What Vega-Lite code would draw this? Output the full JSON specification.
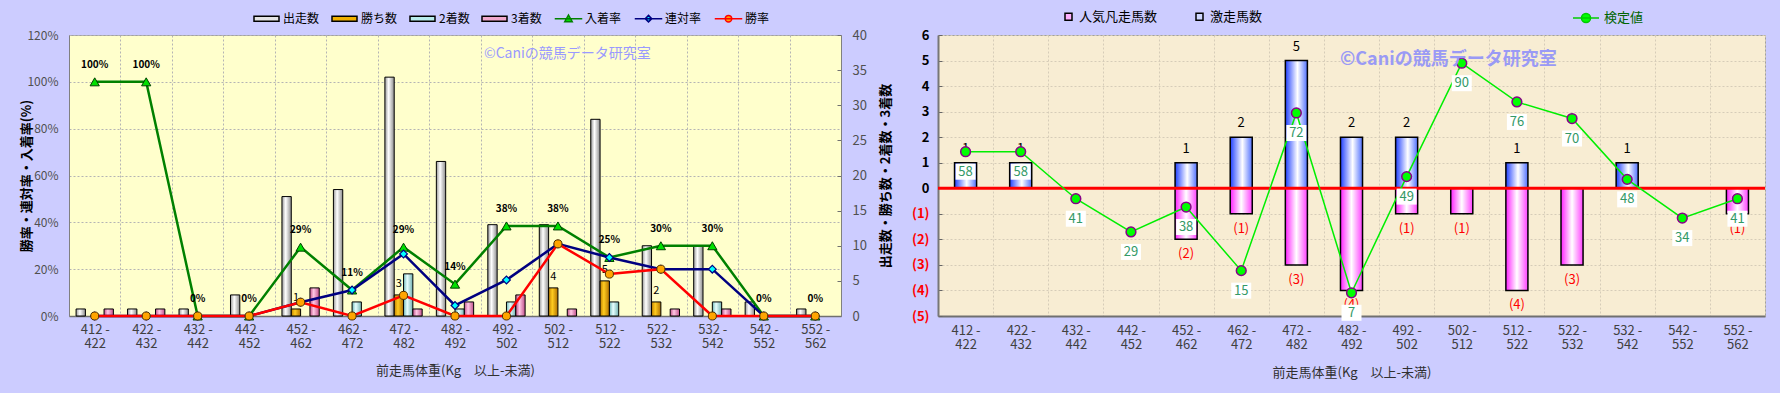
{
 "$schema": "https://vega.github.io/schema/vega-lite/v6.json",
 "background": "#ccccff",
 "padding": {"left": 19, "top": 3, "right": 15, "bottom": 14},
 "spacing": 18,
 "resolve": {"scale": {"fill": "independent", "stroke": "independent", "shape": "independent"}, "legend": {"fill": "independent", "stroke": "independent", "shape": "independent"}},
 "config": {
   "font": "Noto Sans CJK JP",
   "axis": {"labelFont": "Noto Sans CJK JP", "titleFont": "Noto Sans CJK JP"},
   "legend": {"labelFont": "Noto Sans CJK JP"},
   "title": {"font": "Noto Sans CJK JP"},
   "text": {"font": "Noto Sans CJK JP"}
 },
 "datasets": {
  "lbars": [
   {"c":"412 - 422","s":"出走数","v":1},{"c":"412 - 422","s":"勝ち数","v":0},{"c":"412 - 422","s":"2着数","v":0},{"c":"412 - 422","s":"3着数","v":1},
   {"c":"422 - 432","s":"出走数","v":1},{"c":"422 - 432","s":"勝ち数","v":0},{"c":"422 - 432","s":"2着数","v":0},{"c":"422 - 432","s":"3着数","v":1},
   {"c":"432 - 442","s":"出走数","v":1},{"c":"432 - 442","s":"勝ち数","v":0},{"c":"432 - 442","s":"2着数","v":0},{"c":"432 - 442","s":"3着数","v":0},
   {"c":"442 - 452","s":"出走数","v":3},{"c":"442 - 452","s":"勝ち数","v":0},{"c":"442 - 452","s":"2着数","v":0},{"c":"442 - 452","s":"3着数","v":0},
   {"c":"452 - 462","s":"出走数","v":17},{"c":"452 - 462","s":"勝ち数","v":1},{"c":"452 - 462","s":"2着数","v":0},{"c":"452 - 462","s":"3着数","v":4},
   {"c":"462 - 472","s":"出走数","v":18},{"c":"462 - 472","s":"勝ち数","v":0},{"c":"462 - 472","s":"2着数","v":2},{"c":"462 - 472","s":"3着数","v":0},
   {"c":"472 - 482","s":"出走数","v":34},{"c":"472 - 482","s":"勝ち数","v":3},{"c":"472 - 482","s":"2着数","v":6},{"c":"472 - 482","s":"3着数","v":1},
   {"c":"482 - 492","s":"出走数","v":22},{"c":"482 - 492","s":"勝ち数","v":0},{"c":"482 - 492","s":"2着数","v":1},{"c":"482 - 492","s":"3着数","v":2},
   {"c":"492 - 502","s":"出走数","v":13},{"c":"492 - 502","s":"勝ち数","v":0},{"c":"492 - 502","s":"2着数","v":2},{"c":"492 - 502","s":"3着数","v":3},
   {"c":"502 - 512","s":"出走数","v":13},{"c":"502 - 512","s":"勝ち数","v":4},{"c":"502 - 512","s":"2着数","v":0},{"c":"502 - 512","s":"3着数","v":1},
   {"c":"512 - 522","s":"出走数","v":28},{"c":"512 - 522","s":"勝ち数","v":5},{"c":"512 - 522","s":"2着数","v":2},{"c":"512 - 522","s":"3着数","v":0},
   {"c":"522 - 532","s":"出走数","v":10},{"c":"522 - 532","s":"勝ち数","v":2},{"c":"522 - 532","s":"2着数","v":0},{"c":"522 - 532","s":"3着数","v":1},
   {"c":"532 - 542","s":"出走数","v":10},{"c":"532 - 542","s":"勝ち数","v":0},{"c":"532 - 542","s":"2着数","v":2},{"c":"532 - 542","s":"3着数","v":1},
   {"c":"542 - 552","s":"出走数","v":2},{"c":"542 - 552","s":"勝ち数","v":0},{"c":"542 - 552","s":"2着数","v":0},{"c":"542 - 552","s":"3着数","v":0},
   {"c":"552 - 562","s":"出走数","v":1},{"c":"552 - 562","s":"勝ち数","v":0},{"c":"552 - 562","s":"2着数","v":0},{"c":"552 - 562","s":"3着数","v":0}
  ],
  "llines": [
   {"c":"412 - 422","s":"入着率","v":1},{"c":"422 - 432","s":"入着率","v":1},{"c":"432 - 442","s":"入着率","v":0},{"c":"442 - 452","s":"入着率","v":0},
   {"c":"452 - 462","s":"入着率","v":0.294},{"c":"462 - 472","s":"入着率","v":0.111},{"c":"472 - 482","s":"入着率","v":0.294},{"c":"482 - 492","s":"入着率","v":0.136},
   {"c":"492 - 502","s":"入着率","v":0.3846},{"c":"502 - 512","s":"入着率","v":0.3846},{"c":"512 - 522","s":"入着率","v":0.25},{"c":"522 - 532","s":"入着率","v":0.3},
   {"c":"532 - 542","s":"入着率","v":0.3},{"c":"542 - 552","s":"入着率","v":0},{"c":"552 - 562","s":"入着率","v":0},
   {"c":"412 - 422","s":"連対率","v":0},{"c":"422 - 432","s":"連対率","v":0},{"c":"432 - 442","s":"連対率","v":0},{"c":"442 - 452","s":"連対率","v":0},
   {"c":"452 - 462","s":"連対率","v":0.059},{"c":"462 - 472","s":"連対率","v":0.111},{"c":"472 - 482","s":"連対率","v":0.265},{"c":"482 - 492","s":"連対率","v":0.045},
   {"c":"492 - 502","s":"連対率","v":0.154},{"c":"502 - 512","s":"連対率","v":0.308},{"c":"512 - 522","s":"連対率","v":0.25},{"c":"522 - 532","s":"連対率","v":0.2},
   {"c":"532 - 542","s":"連対率","v":0.2},{"c":"542 - 552","s":"連対率","v":0},{"c":"552 - 562","s":"連対率","v":0},
   {"c":"412 - 422","s":"勝率","v":0},{"c":"422 - 432","s":"勝率","v":0},{"c":"432 - 442","s":"勝率","v":0},{"c":"442 - 452","s":"勝率","v":0},
   {"c":"452 - 462","s":"勝率","v":0.059},{"c":"462 - 472","s":"勝率","v":0},{"c":"472 - 482","s":"勝率","v":0.088},{"c":"482 - 492","s":"勝率","v":0},
   {"c":"492 - 502","s":"勝率","v":0},{"c":"502 - 512","s":"勝率","v":0.308},{"c":"512 - 522","s":"勝率","v":0.179},{"c":"522 - 532","s":"勝率","v":0.2},
   {"c":"532 - 542","s":"勝率","v":0},{"c":"542 - 552","s":"勝率","v":0},{"c":"552 - 562","s":"勝率","v":0}
  ],
  "rbars": [
   {"c":"412 - 422","s":"激走馬数","v":1},{"c":"422 - 432","s":"激走馬数","v":1},{"c":"432 - 442","s":"激走馬数","v":0},{"c":"442 - 452","s":"激走馬数","v":0},
   {"c":"452 - 462","s":"激走馬数","v":1},{"c":"462 - 472","s":"激走馬数","v":2},{"c":"472 - 482","s":"激走馬数","v":5},{"c":"482 - 492","s":"激走馬数","v":2},
   {"c":"492 - 502","s":"激走馬数","v":2},{"c":"502 - 512","s":"激走馬数","v":0},{"c":"512 - 522","s":"激走馬数","v":1},{"c":"522 - 532","s":"激走馬数","v":0},
   {"c":"532 - 542","s":"激走馬数","v":1},{"c":"542 - 552","s":"激走馬数","v":0},{"c":"552 - 562","s":"激走馬数","v":0},
   {"c":"412 - 422","s":"人気凡走馬数","v":0},{"c":"422 - 432","s":"人気凡走馬数","v":0},{"c":"432 - 442","s":"人気凡走馬数","v":0},{"c":"442 - 452","s":"人気凡走馬数","v":0},
   {"c":"452 - 462","s":"人気凡走馬数","v":-2},{"c":"462 - 472","s":"人気凡走馬数","v":-1},{"c":"472 - 482","s":"人気凡走馬数","v":-3},{"c":"482 - 492","s":"人気凡走馬数","v":-4},
   {"c":"492 - 502","s":"人気凡走馬数","v":-1},{"c":"502 - 512","s":"人気凡走馬数","v":-1},{"c":"512 - 522","s":"人気凡走馬数","v":-4},{"c":"522 - 532","s":"人気凡走馬数","v":-3},
   {"c":"532 - 542","s":"人気凡走馬数","v":0},{"c":"542 - 552","s":"人気凡走馬数","v":0},{"c":"552 - 562","s":"人気凡走馬数","v":-1}
  ],
  "rline": [
   {"c":"412 - 422","s":"検定値","v":58},{"c":"422 - 432","s":"検定値","v":58},{"c":"432 - 442","s":"検定値","v":41},{"c":"442 - 452","s":"検定値","v":29},
   {"c":"452 - 462","s":"検定値","v":38},{"c":"462 - 472","s":"検定値","v":15},{"c":"472 - 482","s":"検定値","v":72},{"c":"482 - 492","s":"検定値","v":7},
   {"c":"492 - 502","s":"検定値","v":49},{"c":"502 - 512","s":"検定値","v":90},{"c":"512 - 522","s":"検定値","v":76},{"c":"522 - 532","s":"検定値","v":70},
   {"c":"532 - 542","s":"検定値","v":48},{"c":"542 - 552","s":"検定値","v":34},{"c":"552 - 562","s":"検定値","v":41}
  ]
 },
 "hconcat": [
  {
   "width": 772, "height": 281,
   "title": {"text": "©Caniの競馬データ研究室", "orient": "top", "anchor": "start", "frame": "group", "offset": -63, "dx": 415, "baseline": "middle", "fontSize": 14, "fontWeight": "normal", "color": "#9999ff"},
   "view": {"fill": "#ffffcc", "stroke": "#a0a0a0"},
   "layer": [
    {
     "data": {"name": "lbars"},
     "encoding": {
      "x": {"field": "c", "type": "nominal",
        "scale": {"domain": ["412 - 422","422 - 432","432 - 442","442 - 452","452 - 462","462 - 472","472 - 482","482 - 492","492 - 502","502 - 512","512 - 522","522 - 532","532 - 542","542 - 552","552 - 562"], "paddingInner": 0, "paddingOuter": 0},
        "axis": {"title": "前走馬体重(Kg　以上-未満)", "labelExpr": "[slice(datum.label,0,5), slice(datum.label,6)]", "labelAngle": 0, "labelFontSize": 13, "labelColor": "#404040", "labelPadding": 7, "labelLineHeight": 14, "ticks": false, "tickBand": "extent", "grid": true, "gridColor": "#b4b4b4", "gridDash": [2,2], "domainColor": "#707070", "domainWidth": 1.5, "titleFontSize": 13, "titleFontWeight": "normal", "titleColor": "#303030", "titlePadding": 14}},
      "y": {"field": "v", "type": "quantitative", "scale": {"domain": [0, 40], "nice": false},
        "axis": {"orient": "right", "title": "出走数・勝ち数・2着数・3着数", "values": [0,5,10,15,20,25,30,35,40], "grid": false, "tickSize": -4, "tickColor": "#707070", "labelPadding": 15, "labelFontSize": 13, "labelColor": "#505050", "domainColor": "#808080", "minExtent": 26, "maxExtent": 26, "titlePadding": 12, "titleAngle": 270, "titleBaseline": "top", "titleFontSize": 13, "titleFontWeight": "bold", "titleColor": "#000000"}}
     },
     "layer": [
      {"transform": [{"filter": "datum.s === '出走数' && datum.v > 0"}],
       "mark": {"type": "bar", "stroke": "#000000", "strokeWidth": 1,
         "fill": {"gradient": "linear", "x1": 0, "y1": 0, "x2": 1, "y2": 0, "stops": [{"offset": 0, "color": "#9a9a9a"}, {"offset": 0.4, "color": "#ffffff"}, {"offset": 1, "color": "#8c8c8c"}]}},
       "encoding": {"xOffset": {"field": "s", "type": "nominal", "scale": {"domain": ["出走数","勝ち数","2着数","3着数"], "paddingInner": 0, "paddingOuter": 0.76}}}},
      {"transform": [{"filter": "datum.s === '勝ち数' && datum.v > 0"}],
       "mark": {"type": "bar", "stroke": "#000000", "strokeWidth": 1,
         "fill": {"gradient": "linear", "x1": 0, "y1": 0, "x2": 1, "y2": 0, "stops": [{"offset": 0, "color": "#c08000"}, {"offset": 0.4, "color": "#ffcc20"}, {"offset": 1, "color": "#b07000"}]}},
       "encoding": {"xOffset": {"field": "s", "type": "nominal"}}},
      {"transform": [{"filter": "datum.s === '2着数' && datum.v > 0"}],
       "mark": {"type": "bar", "stroke": "#000000", "strokeWidth": 1,
         "fill": {"gradient": "linear", "x1": 0, "y1": 0, "x2": 1, "y2": 0, "stops": [{"offset": 0, "color": "#70b8b8"}, {"offset": 0.4, "color": "#e8ffff"}, {"offset": 1, "color": "#70b0b0"}]}},
       "encoding": {"xOffset": {"field": "s", "type": "nominal"}}},
      {"transform": [{"filter": "datum.s === '3着数' && datum.v > 0"}],
       "mark": {"type": "bar", "stroke": "#000000", "strokeWidth": 1,
         "fill": {"gradient": "linear", "x1": 0, "y1": 0, "x2": 1, "y2": 0, "stops": [{"offset": 0, "color": "#c0508a"}, {"offset": 0.4, "color": "#ffc8e4"}, {"offset": 1, "color": "#c0508a"}]}},
       "encoding": {"xOffset": {"field": "s", "type": "nominal"}}},
      {"transform": [{"filter": "datum.s === '勝ち数' && datum.v > 0"}],
       "mark": {"type": "text", "dy": -11, "fontSize": 11, "color": "#000000"},
       "encoding": {"xOffset": {"field": "s", "type": "nominal"}, "text": {"field": "v", "type": "quantitative"}}},
      {"mark": {"type": "point", "filled": true, "opacity": 0, "size": 1},
       "encoding": {
        "fill": {"field": "s", "type": "nominal",
          "scale": {"domain": ["出走数","勝ち数","2着数","3着数","入着率","連対率","勝率"],
            "range": ["#e4e4e4", "#f0b000", "#b8ecec", "#f0a8cc", "#00e000", "#00ffff", "#ffa500"]},
          "legend": {"orient": "none", "legendX": 184, "legendY": -30, "direction": "horizontal", "title": null, "padding": 0, "symbolSize": 625, "symbolOpacity": 1, "symbolStrokeWidth": 1.5, "labelFontSize": 12, "labelColor": "#000000", "labelOffset": 3, "columnPadding": 9}},
        "shape": {"field": "s", "type": "nominal",
          "scale": {"domain": ["出走数","勝ち数","2着数","3着数","入着率","連対率","勝率"],
            "range": ["M-1,-0.2H1V0.2H-1Z", "M-1,-0.2H1V0.2H-1Z", "M-1,-0.2H1V0.2H-1Z", "M-1,-0.2H1V0.2H-1Z",
              "M-1.1,0H1.1M0,-0.3L0.3,0.24L-0.3,0.24Z",
              "M-1.1,0H1.1M0,-0.26L0.26,0L0,0.26L-0.26,0Z",
              "M-1.1,0H1.1M-0.26,0A0.26,0.26 0 1,0 0.26,0A0.26,0.26 0 1,0 -0.26,0Z"]},
          "legend": {"orient": "none", "legendX": 184, "legendY": -30, "direction": "horizontal", "title": null, "padding": 0, "symbolSize": 625, "symbolOpacity": 1, "symbolStrokeWidth": 1.5, "labelFontSize": 12, "labelColor": "#000000", "labelOffset": 3, "columnPadding": 9}},
        "stroke": {"field": "s", "type": "nominal",
          "scale": {"domain": ["出走数","勝ち数","2着数","3着数","入着率","連対率","勝率"],
            "range": ["#000000", "#000000", "#000000", "#000000", "#008000", "#000080", "#ff0000"]},
          "legend": {"orient": "none", "legendX": 184, "legendY": -30, "direction": "horizontal", "title": null, "padding": 0, "symbolSize": 625, "symbolOpacity": 1, "symbolStrokeWidth": 1.5, "labelFontSize": 12, "labelColor": "#000000", "labelOffset": 3, "columnPadding": 9}}
       }}
     ]
    },
    {
     "data": {"name": "llines"},
     "encoding": {
      "x": {"field": "c", "type": "nominal"},
      "y": {"field": "v", "type": "quantitative", "scale": {"domain": [0, 1.2], "nice": false},
        "axis": {"orient": "left", "title": "勝率・連対率・入着率(%)", "format": ".0%", "values": [0,0.2,0.4,0.6,0.8,1,1.2], "grid": true, "gridColor": "#b4b4b4", "gridDash": [2,2], "ticks": false, "labelPadding": 11, "labelFontSize": 12, "labelColor": "#505050", "domainColor": "#808080", "minExtent": 36, "maxExtent": 36, "titlePadding": 0, "titleFontSize": 13, "titleFontWeight": "bold", "titleColor": "#000000"}}
     },
     "layer": [
      {"transform": [{"filter": "datum.s === '入着率'"}], "mark": {"type": "line", "color": "#008000", "strokeWidth": 2.5}},
      {"transform": [{"filter": "datum.s === '連対率'"}], "mark": {"type": "line", "color": "#000080", "strokeWidth": 2.5}},
      {"transform": [{"filter": "datum.s === '勝率'"}], "mark": {"type": "line", "color": "#ff0000", "strokeWidth": 2.5}},
      {"transform": [{"filter": "datum.s === '入着率'"}], "mark": {"type": "point", "shape": "triangle-up", "filled": true, "fill": "#00e000", "stroke": "#004000", "strokeWidth": 1, "size": 85, "opacity": 1}},
      {"transform": [{"filter": "datum.s === '連対率'"}], "mark": {"type": "point", "shape": "diamond", "filled": true, "fill": "#00ffff", "stroke": "#000080", "strokeWidth": 1.2, "size": 60, "opacity": 1}},
      {"transform": [{"filter": "datum.s === '勝率'"}], "mark": {"type": "point", "shape": "circle", "filled": true, "fill": "#ffa500", "stroke": "#503000", "strokeWidth": 1, "size": 65, "opacity": 1}},
      {"transform": [{"filter": "datum.s === '入着率'"}], "mark": {"type": "text", "dy": -17, "fontSize": 10, "fontWeight": "bold", "color": "#000000"}, "encoding": {"text": {"field": "v", "type": "quantitative", "format": ".0%"}}}
     ]
    }
   ],
   "resolve": {"scale": {"y": "independent"}}
  },
  {
   "width": 827, "height": 281,
   "title": {"text": "©Caniの競馬データ研究室", "orient": "top", "anchor": "start", "frame": "group", "offset": -74, "dx": 402, "baseline": "middle", "fontSize": 18, "fontWeight": "bold", "color": "#9a9af5"},
   "view": {"fill": "#f8edd3", "stroke": "#a0a0a0"},
   "layer": [
    {
     "data": {"name": "rbars"},
     "encoding": {
      "x": {"field": "c", "type": "nominal",
        "scale": {"domain": ["412 - 422","422 - 432","432 - 442","442 - 452","452 - 462","462 - 472","472 - 482","482 - 492","492 - 502","502 - 512","512 - 522","522 - 532","532 - 542","542 - 552","552 - 562"], "paddingInner": 0, "paddingOuter": 0},
        "axis": {"title": "前走馬体重(Kg　以上-未満)", "labelExpr": "[slice(datum.label,0,5), slice(datum.label,6)]", "labelAngle": 0, "labelFontSize": 13, "labelColor": "#404040", "labelPadding": 8, "labelLineHeight": 14, "ticks": false, "tickBand": "extent", "grid": true, "gridColor": "#d6ccb8", "gridDash": [2,2], "domainColor": "#707070", "domainWidth": 2, "titleFontSize": 13, "titleFontWeight": "normal", "titleColor": "#303030", "titlePadding": 15}},
      "y": {"field": "v", "type": "quantitative", "scale": {"domain": [-5, 6], "nice": false, "zero": false},
        "axis": {"title": null, "values": [-5,-4,-3,-2,-1,0,1,2,3,4,5,6], "format": "(d", "labelColor": {"condition": {"test": "datum.value < 0", "value": "#ff0000"}, "value": "#000000"}, "labelFontWeight": "bold", "labelFontSize": 13, "grid": true, "gridColor": "#d6ccb8", "gridDash": [2,2], "tickSize": -4, "tickColor": "#666666", "labelPadding": 13, "domainColor": "#777777", "domainWidth": 2}}
     },
     "layer": [
      {"transform": [{"filter": "datum.s === '激走馬数' && datum.v != 0"}],
       "mark": {"type": "bar", "width": {"band": 0.4}, "stroke": "#000000", "strokeWidth": 1.5,
         "fill": {"gradient": "linear", "x1": 0, "y1": 0, "x2": 1, "y2": 0, "stops": [{"offset": 0, "color": "#2040ff"}, {"offset": 0.55, "color": "#ffffff"}, {"offset": 1, "color": "#5070ff"}]}}},
      {"transform": [{"filter": "datum.s === '人気凡走馬数' && datum.v != 0"}],
       "mark": {"type": "bar", "width": {"band": 0.4}, "stroke": "#000000", "strokeWidth": 1.5,
         "fill": {"gradient": "linear", "x1": 0, "y1": 0, "x2": 1, "y2": 0, "stops": [{"offset": 0, "color": "#ff20ff"}, {"offset": 0.5, "color": "#ffffff"}, {"offset": 1, "color": "#ff40ff"}]}}},
      {"transform": [{"filter": "datum.v > 0"}],
       "mark": {"type": "text", "dy": -14, "fontSize": 13, "color": "#000000"},
       "encoding": {"text": {"field": "v", "type": "quantitative"}}},
      {"transform": [{"filter": "datum.v < 0"}],
       "mark": {"type": "text", "dy": 15, "fontSize": 13, "color": "#ff0000"},
       "encoding": {"text": {"field": "v", "type": "quantitative", "format": "(d"}}},
      {"mark": {"type": "point", "filled": true, "opacity": 0, "size": 1},
       "encoding": {
        "fill": {"field": "s", "type": "nominal", "scale": {"domain": ["人気凡走馬数","激走馬数"], "range": ["#ffb0ff", "#d0d8ff"]},
          "legend": {"orient": "none", "legendX": 124, "legendY": -25, "direction": "horizontal", "title": null, "padding": 0, "symbolType": "square", "symbolSize": 49, "symbolOpacity": 1, "symbolStrokeWidth": 1.5, "labelFontSize": 13, "labelColor": "#000000", "labelOffset": 4, "columnPadding": 35}},
        "stroke": {"field": "s", "type": "nominal", "scale": {"domain": ["人気凡走馬数","激走馬数"], "range": ["#000000", "#000000"]},
          "legend": {"orient": "none", "legendX": 124, "legendY": -25, "direction": "horizontal", "title": null, "padding": 0, "symbolType": "square", "symbolSize": 49, "symbolOpacity": 1, "symbolStrokeWidth": 1.5, "labelFontSize": 13, "labelColor": "#000000", "labelOffset": 4, "columnPadding": 35}}
       }},
      {"data": {"values": [{"z": 0}]},
       "mark": {"type": "rule", "color": "#ff0000", "strokeWidth": 3},
       "encoding": {"x": null, "y": {"field": "z", "type": "quantitative"}}}
     ]
    },
    {
     "data": {"name": "rline"},
     "encoding": {
      "x": {"field": "c", "type": "nominal"},
      "y": {"field": "v", "type": "quantitative", "scale": {"domain": [-1.4, 100.2], "nice": false, "zero": false}, "axis": null}
     },
     "layer": [
      {"mark": {"type": "line", "strokeWidth": 1.5, "color": "#00ee00"}},
      {"mark": {"type": "point", "shape": "circle", "filled": true, "fill": "#00ff00", "stroke": "#880088", "strokeWidth": 1.5, "size": 95, "opacity": 1}},
      {"mark": {"type": "point", "shape": "M-1.25,-1H1.25V1H-1.25Z", "filled": true, "fill": "#ffffff", "strokeWidth": 0, "size": 256, "opacity": 1, "yOffset": 20}},
      {"mark": {"type": "text", "dy": 20, "fontSize": 13, "color": "#339966"}, "encoding": {"text": {"field": "v", "type": "quantitative"}}},
      {"mark": {"type": "point", "filled": true, "opacity": 0, "size": 1},
       "encoding": {
        "fill": {"field": "s", "type": "nominal", "scale": {"domain": ["検定値"], "range": ["#00ff00"]},
          "legend": {"orient": "none", "legendX": 634, "legendY": -31, "direction": "horizontal", "title": null, "padding": 0, "symbolSize": 676, "symbolOpacity": 1, "symbolStrokeWidth": 1.5, "labelFontSize": 13, "labelColor": "#006400", "labelOffset": 4}},
        "shape": {"field": "s", "type": "nominal", "scale": {"domain": ["検定値"], "range": ["M-1,0H1M-0.35,0A0.35,0.35 0 1,0 0.35,0A0.35,0.35 0 1,0 -0.35,0Z"]},
          "legend": {"orient": "none", "legendX": 634, "legendY": -31, "direction": "horizontal", "title": null, "padding": 0, "symbolSize": 676, "symbolOpacity": 1, "symbolStrokeWidth": 1.5, "labelFontSize": 13, "labelColor": "#006400", "labelOffset": 4}},
        "stroke": {"field": "s", "type": "nominal", "scale": {"domain": ["検定値"], "range": ["#00cc00"]},
          "legend": {"orient": "none", "legendX": 634, "legendY": -31, "direction": "horizontal", "title": null, "padding": 0, "symbolSize": 676, "symbolOpacity": 1, "symbolStrokeWidth": 1.5, "labelFontSize": 13, "labelColor": "#006400", "labelOffset": 4}}
       }}
     ]
    }
   ],
   "resolve": {"scale": {"y": "independent", "fill": "independent", "stroke": "independent", "shape": "independent"}, "legend": {"fill": "independent", "stroke": "independent", "shape": "independent"}}
  }
 ]
}
